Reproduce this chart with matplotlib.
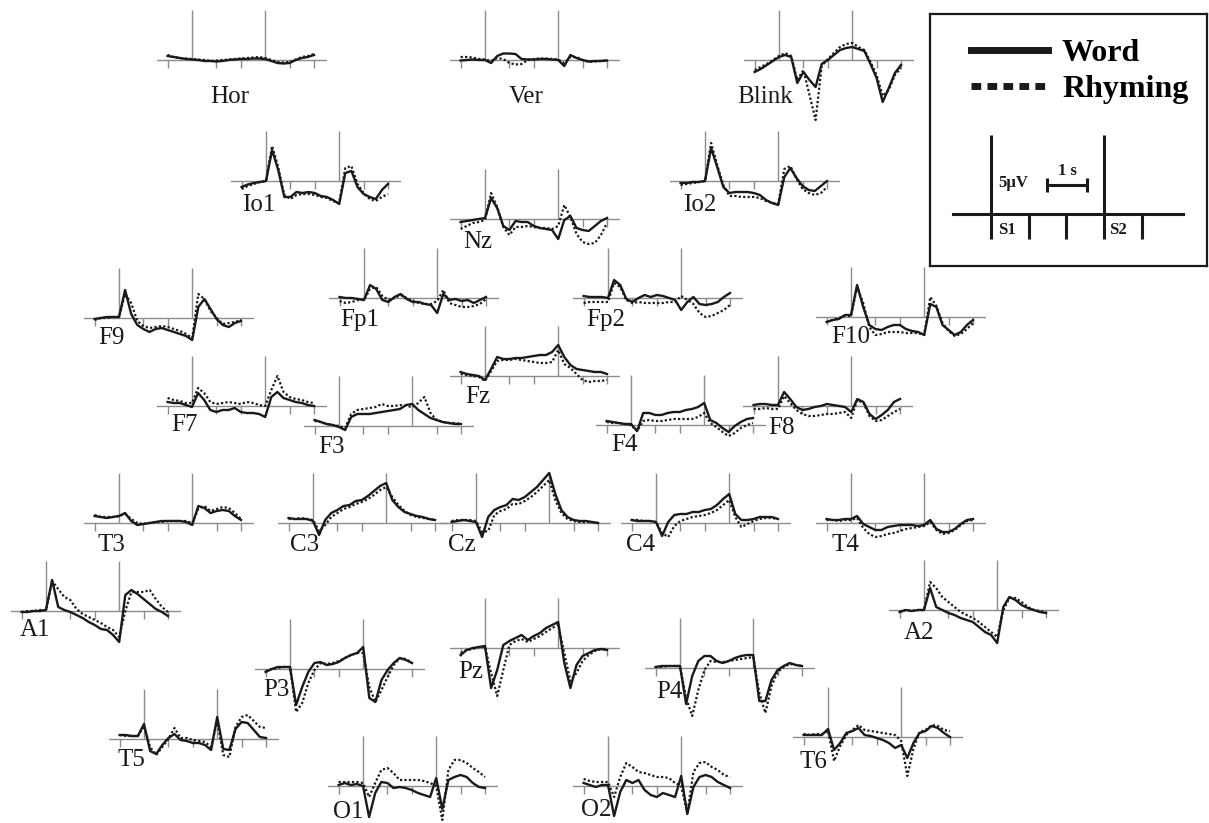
import matplotlib
matplotlib.use("Agg")
import matplotlib.pyplot as plt
from matplotlib.lines import Line2D

# figure size in pixels
W, H = 1209, 823

# panel scale: pixels per second / per microvolt
PX_S = 24.4
PX_UV = 10.0
T_LO, T_HI = -1.45, 5.55
V_LO, V_HI = -7.0, 7.0

# time grid in s (S1 at 0, S2 at 3)
times = [-1.0, -0.75, -0.5, -0.25, 0.0, 0.25, 0.5, 0.75, 1.0, 1.25, 1.5, 1.75,
         2.0, 2.25, 2.5, 2.75, 3.0, 3.25, 3.5, 3.75, 4.0, 4.25, 4.5, 4.75, 5.0]

# amplitudes in microvolts, Word (w_) and Rhyming (r_)
w_Hor = [0.4, 0.3, 0.2, 0.1, 0.05, 0, -0.1, -0.1, -0.15, -0.1, 0, 0.05, 0.1, 0.1, 0.15, 0.15, 0.1, -0.1, -0.3, -0.35, -0.3, 0, 0.2, 0.3, 0.5]
r_Hor = [0.5, 0.3, 0.2, 0.15, 0.1, 0.05, 0, -0.1, -0.05, 0, 0.05, 0.1, 0.15, 0.2, 0.25, 0.3, 0.2, 0, -0.2, -0.25, -0.2, 0.05, 0.3, 0.4, 0.6]
w_Ver = [-0.05, 0, 0.05, 0, 0, -0.3, 0.4, 0.65, 0.65, 0.6, 0.1, 0.05, 0.05, 0.1, 0.1, 0.05, 0, -0.6, 0.5, 0.2, 0, -0.15, -0.1, -0.1, -0.05]
r_Ver = [0.3, 0.3, 0.25, 0.1, 0.05, -0.1, 0.2, 0.1, -0.3, -0.45, -0.4, 0, 0.1, 0.15, 0.15, 0.1, 0.05, -0.3, 0.3, 0.3, 0, -0.2, -0.15, -0.1, -0.05]
w_Blink = [-1.2, -0.9, -0.5, -0.1, 0.3, 0.5, 0.3, -2.3, -1.2, -2.0, -2.7, -0.4, 0, 0.5, 1.0, 1.2, 1.3, 1.1, 0.9, -0.4, -1.8, -4.2, -2.8, -1.3, -0.5]
r_Blink = [-1.0, -0.7, -0.4, 0, 0.4, 0.7, 0.4, -2.0, -1.0, -3.5, -6.0, -0.6, 0.1, 0.7, 1.3, 1.6, 1.7, 1.3, 1.0, -0.2, -1.5, -3.6, -3.0, -1.5, -0.8]
w_Io1 = [-0.6, -0.35, -0.2, -0.1, 0, 3.1, 1.1, -1.6, -1.6, -1.1, -1.2, -1.1, -1.2, -1.5, -1.6, -1.9, -2.3, 0.8, 1.0, -0.6, -1.3, -1.6, -1.8, -0.9, -0.3]
r_Io1 = [-0.8, -0.5, -0.3, -0.1, 0, 3.5, 1.4, -1.4, -1.8, -1.4, -1.3, -1.3, -1.4, -1.6, -1.7, -2.0, -2.2, 1.3, 1.5, -0.3, -1.2, -1.8, -2.0, -1.6, -1.3]
w_Io2 = [-0.2, -0.2, -0.1, -0.1, 0, 3.3, 1.4, -0.6, -1.2, -1.1, -1.1, -1.1, -1.2, -1.4, -1.9, -2.2, -2.4, 0.4, 1.3, 0.3, -0.5, -0.9, -1.0, -0.5, 0.0]
r_Io2 = [-0.4, -0.3, -0.2, -0.1, 0, 3.8, 1.6, -0.4, -1.5, -1.5, -1.6, -1.6, -1.6, -1.7, -2.0, -2.2, -2.3, 1.2, 1.5, 0.2, -0.8, -1.2, -1.4, -1.2, -0.6]
w_Nz = [-0.3, -0.2, -0.1, 0, 0.1, 2.1, 1.1, -0.7, -1.1, -0.2, -0.3, -0.3, -0.7, -0.9, -1.0, -1.1, -2.0, -0.1, 0.3, -0.9, -1.1, -1.2, -0.7, -0.2, 0.1]
r_Nz = [-1.0, -0.7, -0.4, -0.3, -0.1, 2.6, 1.2, -0.8, -1.6, -0.8, -0.8, -0.7, -0.8, -0.9, -0.9, -1.0, -0.7, 1.4, 0.2, -1.5, -2.3, -2.5, -2.4, -1.6, -0.4]
w_F9 = [-0.1, 0, 0.1, 0.1, 0.1, 2.8, 0.4, -0.7, -1.1, -1.4, -1.1, -1.0, -1.2, -1.4, -1.6, -1.8, -2.2, 1.1, 1.9, 0.9, -0.1, -0.7, -0.9, -0.5, -0.3]
r_F9 = [-0.2, 0, 0, 0.1, 0.1, 2.4, 1.5, -0.3, -0.8, -1.0, -0.9, -0.8, -0.9, -1.1, -1.3, -1.6, -2.0, 2.4, 1.9, 0.7, 0, -0.6, -0.5, -0.4, -0.2]
w_Fp1 = [0.1, 0, 0, -0.1, -0.2, 1.3, 0.9, -0.2, -0.4, 0.1, 0.4, -0.1, -0.4, -0.4, -0.6, -0.7, -1.5, 0.4, -0.2, -0.1, -0.3, -0.2, -0.5, -0.2, 0.1]
r_Fp1 = [-0.3, -0.5, -0.4, -0.2, -0.2, 0.9, 1.1, 0.2, -0.2, 0, 0.3, 0, -0.3, -0.5, -0.6, -0.6, -0.3, 0.8, -0.5, -0.7, -0.9, -0.9, -0.8, -0.6, -0.1]
w_Fp2 = [0.2, 0.1, 0.1, 0.1, 0, 1.8, 1.3, -0.1, -0.4, 0, 0.3, 0.1, 0.3, 0.2, 0, -0.2, -1.2, -0.4, 0.1, -0.6, -0.7, -0.6, -0.4, 0.1, 0.5]
r_Fp2 = [-0.5, -0.4, -0.4, -0.4, -0.4, 1.5, 1.1, -0.2, -0.5, -0.4, -0.5, -0.5, -0.5, -0.5, -0.4, -0.4, 0.2, -0.2, -0.6, -1.5, -1.9, -1.8, -1.5, -1.2, -0.7]
w_F10 = [-0.5, -0.3, -0.2, 0.2, 0.2, 3.2, 1.0, -0.8, -1.2, -1.3, -1.0, -0.8, -0.8, -1.2, -1.4, -1.5, -1.8, 1.3, 1.0, -0.8, -1.3, -1.8, -1.5, -0.8, -0.3]
r_F10 = [-0.5, -0.3, -0.1, 0.1, 0.1, 3.0, 1.4, -1.0, -1.8, -1.7, -1.5, -1.5, -1.5, -1.6, -1.6, -1.6, -1.8, 2.0, 1.1, -0.6, -1.4, -1.9, -1.7, -1.2, -0.6]
w_Fz = [0.4, 0.2, 0.1, 0, -0.4, 0.7, 1.9, 1.7, 1.7, 1.8, 1.8, 1.9, 2.0, 2.1, 2.1, 2.4, 3.1, 1.9, 1.1, 0.7, 0.6, 0.5, 0.4, 0.4, 0.2]
r_Fz = [0.2, 0.1, 0, -0.1, -0.5, 0.5, 1.5, 1.6, 1.6, 1.7, 1.6, 1.5, 1.4, 1.3, 1.3, 1.4, 2.6, 1.2, 0.8, 0.2, -0.4, -0.6, -0.5, -0.5, -0.4]
w_F7 = [0.4, 0.3, 0.3, 0.1, -0.1, 1.3, 0.6, -0.4, -0.6, -0.4, -0.4, -0.2, -0.6, -0.7, -0.7, -0.8, -1.1, 0.9, 1.4, 0.8, 0.6, 0.4, 0.3, 0.1, 0]
r_F7 = [0.8, 0.6, 0.5, 0.3, 0.3, 1.8, 1.3, 0.4, 0.2, 0.3, 0.4, 0.3, 0.2, 0.4, 0.3, 0.1, 0, 1.6, 3.0, 1.4, 0.9, 0.7, 0.6, 0.4, 0.3]
w_F3 = [0.6, 0.4, 0.2, 0.1, -0.1, -0.4, 0.9, 1.2, 1.2, 1.2, 1.3, 1.4, 1.5, 1.6, 1.7, 2.1, 2.2, 1.6, 1.2, 0.8, 0.6, 0.4, 0.3, 0.2, 0.2]
r_F3 = [0.5, 0.4, 0.2, 0.1, 0, -0.2, 1.2, 1.6, 1.7, 1.8, 1.9, 2.2, 2.0, 2.0, 2.1, 2.0, 1.9, 2.3, 2.9, 1.3, 0.6, 0.4, 0.3, 0.3, 0.2]
w_F4 = [0.4, 0.3, 0.2, 0.1, 0.1, -0.6, 1.2, 1.2, 1.0, 1.0, 1.2, 1.3, 1.3, 1.5, 1.6, 1.8, 2.2, 0.5, 0.2, -0.3, -0.7, -0.1, 0.3, 0.6, 0.7]
r_F4 = [0.3, 0.2, 0.2, 0.1, 0, -0.6, 0.4, 0.5, 0.4, 0.4, 0.5, 0.6, 0.6, 0.6, 0.6, 0.8, 1.2, 0.2, -0.2, -0.7, -1.1, -0.8, -0.3, 0, 0.2]
w_F8 = [0.1, 0.2, 0.2, 0.1, 0.1, 1.4, 0.7, -0.1, -0.4, -0.3, -0.1, 0, 0.2, 0.1, 0, -0.1, -0.6, 0.7, 0.4, -0.8, -1.3, -0.9, -0.4, 0.4, 0.7]
r_F8 = [-0.3, -0.3, -0.2, -0.3, -0.3, 1.0, 0.3, -0.4, -0.8, -1.0, -1.0, -0.9, -0.8, -0.8, -0.7, -0.6, -1.2, 0.6, 0.3, -1.0, -1.5, -1.4, -1.0, -0.6, -0.3]
w_T3 = [0.7, 0.6, 0.5, 0.6, 0.7, 1.0, 0.2, -0.2, -0.1, 0, 0.1, 0.2, 0.2, 0.2, 0.2, 0.1, -0.2, 1.7, 1.5, 1.0, 1.2, 1.3, 1.2, 0.7, 0.3]
r_T3 = [0.8, 0.6, 0.6, 0.6, 0.7, 0.9, 0.4, 0, -0.1, 0, 0.1, 0.1, 0.2, 0.2, 0.2, 0.2, 0, 1.4, 1.7, 1.2, 1.4, 1.6, 1.5, 1.0, 0.4]
w_C3 = [0.5, 0.4, 0.4, 0.4, 0.2, -1.2, 0.3, 1.0, 1.3, 1.7, 1.8, 2.2, 2.3, 2.7, 3.2, 3.7, 4.0, 2.3, 1.6, 1.1, 0.9, 0.7, 0.6, 0.4, 0.3]
r_C3 = [0.4, 0.4, 0.5, 0.4, 0.3, -0.8, -0.2, 0.6, 1.0, 1.4, 1.6, 1.9, 2.1, 2.4, 2.8, 3.3, 3.6, 2.6, 1.8, 1.2, 0.8, 0.6, 0.5, 0.4, 0.3]
w_Cz = [0.1, 0.2, 0.3, 0.2, 0.1, -1.4, 0.6, 1.3, 1.6, 1.8, 2.4, 2.3, 2.6, 3.1, 3.6, 4.3, 5.0, 2.9, 1.3, 0.6, 0.3, 0.2, 0.2, 0.1, 0]
r_Cz = [0.2, 0.3, 0.3, 0.3, 0.2, -0.9, -0.8, 0.8, 1.2, 1.4, 1.9, 1.9, 2.2, 2.6, 3.1, 3.7, 4.3, 2.3, 1.0, 0.4, 0.2, 0.1, 0.1, 0.1, 0]
w_C4 = [0.3, 0.2, 0.2, 0.2, 0.1, -1.3, 0.1, 0.8, 0.9, 0.9, 1.1, 1.1, 1.3, 1.4, 1.8, 2.4, 2.9, 0.9, 0.3, 0.3, 0.4, 0.6, 0.6, 0.6, 0.4]
r_C4 = [0.3, 0.3, 0.2, 0.2, 0.1, -1.0, -1.4, -0.3, 0.2, 0.4, 0.6, 0.7, 0.8, 1.0, 1.3, 1.8, 2.3, 0.6, -0.4, -0.1, 0.2, 0.4, 0.5, 0.5, 0.4]
w_T4 = [0.4, 0.3, 0.3, 0.4, 0.4, 0.7, -0.1, -0.4, -0.7, -0.7, -0.4, -0.3, -0.2, -0.2, -0.2, -0.3, -0.2, 0.3, -0.6, -0.9, -0.9, -0.6, -0.1, 0.3, 0.4]
r_T4 = [0.3, 0.3, 0.2, 0.3, 0.3, 0.5, -0.5, -1.1, -1.4, -1.3, -1.1, -1.0, -0.8, -0.6, -0.5, -0.4, -0.3, 0.1, -0.7, -1.1, -1.0, -0.7, -0.2, 0.2, 0.3]
w_A1 = [-0.1, -0.1, 0, 0, 0.1, 3.1, 0.4, 0.1, -0.1, -0.4, -0.7, -1.1, -1.4, -1.8, -1.9, -2.4, -3.1, 1.6, 2.1, 1.7, 1.2, 0.7, 0.2, -0.1, -0.5]
r_A1 = [-0.1, 0, 0, 0.1, 0.1, 3.0, 2.2, 1.4, 1.1, 0.2, -0.3, -0.6, -0.9, -1.2, -1.6, -1.9, -2.6, 0, 1.9, 1.9, 1.9, 2.1, 1.2, 0.4, -0.1]
w_A2 = [-0.2, 0, -0.1, 0, 0, 2.2, 0.3, 0, -0.3, -0.5, -0.8, -1.0, -1.2, -1.7, -2.2, -2.5, -3.3, 0.3, 1.3, 1.0, 0.5, 0.2, 0, -0.2, -0.3]
r_A2 = [-0.2, 0, -0.1, 0, 0, 2.8, 2.2, 1.3, 0.8, 0.3, -0.2, -0.5, -0.8, -1.2, -1.7, -2.2, -2.7, 0, 1.2, 1.2, 0.8, 0.3, 0, -0.1, -0.2]
w_P3 = [-0.3, 0, 0.2, 0.2, 0.2, -3.6, -1.8, -0.3, 0.6, 0.7, 0.4, 0.5, 0.7, 1.1, 1.4, 1.6, 2.2, -2.9, -3.3, -1.1, -0.1, 0.6, 1.1, 0.9, 0.6]
r_P3 = [-0.2, 0, 0.1, 0.2, 0.2, -4.3, -3.4, -1.4, -0.1, 0.6, 0.5, 0.6, 0.8, 1.1, 1.4, 1.6, 1.6, -1.8, -3.3, -2.1, -0.8, 0.4, 1.1, 1.0, 0.6]
w_Pz = [-0.7, -0.2, 0, 0.1, 0.2, -4.0, -2.2, 0.3, 0.7, 1.0, 1.3, 0.8, 1.2, 1.5, 2.0, 2.3, 2.6, -1.5, -4.0, -1.7, -0.8, -0.5, -0.2, -0.1, -0.2]
r_Pz = [-0.5, -0.2, -0.1, 0.1, 0.1, -2.5, -4.8, -2.2, 0.3, 0.7, 0.9, 0.6, 0.9, 1.2, 1.6, 2.0, 2.3, -0.5, -3.3, -2.5, -1.3, -0.7, -0.3, -0.1, -0.1]
w_P4 = [0.1, 0.2, 0.2, 0.2, 0.2, -3.6, -0.8, 0.7, 1.2, 1.2, 0.7, 0.5, 0.7, 1.0, 1.2, 1.3, 1.3, -3.3, -3.3, -1.2, -0.2, 0.2, 0.5, 0.3, 0.2]
r_P4 = [0.1, 0.1, 0.2, 0.2, 0.2, -3.0, -4.8, -2.2, -0.2, 0.7, 0.6, 0.6, 0.7, 0.8, 0.9, 1.0, 1.1, -2.5, -4.5, -1.8, -0.4, 0.1, 0.4, 0.3, 0.2]
w_T5 = [0.4, 0.4, 0.3, 0.3, 1.5, -1.2, -1.5, -0.6, 0.1, 0.5, -0.1, -0.2, -0.4, -0.4, -0.6, -1.1, 2.2, -1.0, -1.1, 1.0, 1.7, 1.6, 0.9, 0.2, 0.1]
r_T5 = [0.4, 0.3, 0.3, 0.3, 1.3, -0.8, -1.6, -0.8, 0, 1.1, 0.1, 0.1, -0.1, -0.2, -0.3, -0.8, 1.8, -1.6, -1.8, 1.2, 2.2, 2.4, 1.8, 1.2, 1.1]
w_T6 = [0.2, 0.2, 0.2, 0.2, 0.8, -1.3, -0.6, 0.4, 0.6, 0.9, 0.2, 0.1, -0.1, -0.3, -0.6, -1.1, -0.8, -2.1, -0.6, 0.4, 0.6, 1.1, 0.9, 0.4, 0]
r_T6 = [0.3, 0.2, 0.3, 0.3, 0.6, -2.4, -0.9, 0.2, 0.7, 1.2, 0.7, 0.6, 0.5, 0.4, 0.3, 0.2, -0.4, -3.9, -1.2, 0.5, 0.7, 1.2, 1.1, 0.7, 0.6]
w_O1 = [0.1, 0.3, 0.1, 0.2, 0, -3.1, -0.7, 0.4, 0.3, -0.2, -0.1, -0.2, -0.4, -0.7, -0.9, -1.1, 0.8, -2.3, 0.6, 0.9, 1.1, 0.9, 0.3, -0.1, -0.2]
r_O1 = [0.4, 0.4, 0.4, 0.4, 0.3, -1.1, 0.3, 1.6, 1.8, 1.3, 0.6, 0.6, 0.6, 0.6, 0.5, 0.3, 0, -3.4, 1.6, 2.6, 2.6, 2.3, 1.8, 1.4, 0.9]
w_O2 = [0.3, 0.1, -0.1, 0.1, 0.1, -3.0, -0.6, 0.6, 0.3, 0.6, -0.4, -0.9, -1.1, -0.7, -0.9, -1.1, 1.0, -2.8, -0.1, 0.9, 1.1, 0.9, 0.4, 0.1, -0.2]
r_O2 = [0.7, 0.5, 0.4, 0.4, 0.4, -1.1, 0.9, 2.3, 1.9, 1.4, 1.3, 1.1, 0.9, 0.9, 0.8, 0.3, 0, -2.7, 1.4, 2.3, 2.4, 1.9, 1.6, 1.1, 0.9]

# layout in pixels: S1 x, baseline y, label x, label y, label alignment
layout = {
    'Hor':   (192, 60, 230, 97, 'center'),
    'Ver':   (485, 60, 526, 97, 'center'),
    'Blink': (779, 60, 765, 97, 'center'),
    'Io1':   (266, 181, 242, 205, 'left'),
    'Nz':    (485, 219, 463, 242, 'left'),
    'Io2':   (705, 181, 683, 205, 'left'),
    'F9':    (119, 318, 98, 338, 'left'),
    'Fp1':   (364, 298, 340, 320, 'left'),
    'Fp2':   (608, 298, 586, 320, 'left'),
    'F10':   (851, 317, 831, 337, 'left'),
    'Fz':    (485, 376, 465, 397, 'left'),
    'F7':    (192, 406, 171, 425, 'left'),
    'F3':    (339, 426, 318, 447, 'left'),
    'F4':    (631, 425, 611, 445, 'left'),
    'F8':    (778, 406, 768, 428, 'left'),
    'T3':    (119, 523, 98, 545, 'left'),
    'C3':    (313, 523, 290, 545, 'left'),
    'Cz':    (476, 523, 448, 545, 'left'),
    'C4':    (656, 523, 626, 545, 'left'),
    'T4':    (851, 523, 831, 545, 'left'),
    'A1':    (46, 611, 20, 630, 'left'),
    'A2':    (924, 610, 904, 633, 'left'),
    'P3':    (290, 669, 263, 690, 'left'),
    'Pz':    (485, 648, 458, 672, 'left'),
    'P4':    (680, 668, 656, 692, 'left'),
    'T5':    (144, 739, 117, 760, 'left'),
    'T6':    (828, 737, 800, 762, 'left'),
    'O1':    (363, 786, 333, 812, 'left'),
    'O2':    (608, 786, 581, 810, 'left'),
}

series = {
    'Hor': (w_Hor, r_Hor), 'Ver': (w_Ver, r_Ver), 'Blink': (w_Blink, r_Blink),
    'Io1': (w_Io1, r_Io1), 'Nz': (w_Nz, r_Nz), 'Io2': (w_Io2, r_Io2),
    'F9': (w_F9, r_F9), 'Fp1': (w_Fp1, r_Fp1), 'Fp2': (w_Fp2, r_Fp2), 'F10': (w_F10, r_F10),
    'Fz': (w_Fz, r_Fz), 'F7': (w_F7, r_F7), 'F3': (w_F3, r_F3), 'F4': (w_F4, r_F4), 'F8': (w_F8, r_F8),
    'T3': (w_T3, r_T3), 'C3': (w_C3, r_C3), 'Cz': (w_Cz, r_Cz), 'C4': (w_C4, r_C4), 'T4': (w_T4, r_T4),
    'A1': (w_A1, r_A1), 'A2': (w_A2, r_A2), 'P3': (w_P3, r_P3), 'Pz': (w_Pz, r_Pz), 'P4': (w_P4, r_P4),
    'T5': (w_T5, r_T5), 'T6': (w_T6, r_T6), 'O1': (w_O1, r_O1), 'O2': (w_O2, r_O2),
}

GRID = '#8c8c8c'
INK = '#1a1a1a'
SERIF = ['Liberation Serif', 'DejaVu Serif']
DOTS = (0, (1, 1))

fig = plt.figure(figsize=(W / 100, H / 100), dpi=100)
fig.patch.set_facecolor('white')


def draw_panel(name, word, rhym, s1x, basey, lx, ly, ha):
    # one small axes per electrode, in seconds and microvolts
    left = (s1x + T_LO * PX_S) / W
    bottom = 1 - (basey - V_LO * PX_UV) / H
    ax = fig.add_axes([left, bottom, (T_HI - T_LO) * PX_S / W, (V_HI - V_LO) * PX_UV / H])
    ax.set_xlim(T_LO, T_HI)
    ax.set_ylim(V_LO, V_HI)
    ax.axis('off')
    ax.axhline(0, color=GRID, lw=1.0)
    ax.vlines([0, 3], 0, 5, color=GRID, lw=1.0)
    ax.vlines([-1, 1, 2, 4, 5], -0.8, 0, color=GRID, lw=1.0)
    ax.plot(times, rhym, color=INK, lw=1.6, ls=DOTS, clip_on=False)
    ax.plot(times, word, color=INK, lw=1.7, clip_on=False)
    fig.text(lx / W, 1 - ly / H, name, ha=ha, va='center',
             family=SERIF, fontsize=18, color=INK)


for name, (s1x, basey, lx, ly, ha) in layout.items():
    word, rhym = series[name]
    draw_panel(name, word, rhym, s1x, basey, lx, ly, ha)

# legend box with the time/amplitude key (scaled 1.55x)
LEG_S = 37.7
LEG_UV = 15.8
box = (930, 14, 1207, 266)   # left, top, right, bottom in px
leg_s1, leg_base = 991, 214
lax = fig.add_axes([box[0] / W, 1 - box[3] / H, (box[2] - box[0]) / W, (box[3] - box[1]) / H])
lax.set_xlim((box[0] - leg_s1) / LEG_S, (box[2] - leg_s1) / LEG_S)
lax.set_ylim((leg_base - box[3]) / LEG_UV, (leg_base - box[1]) / LEG_UV)
lax.set_xticks([])
lax.set_yticks([])
for sp in lax.spines.values():
    sp.set_linewidth(1.6)
    sp.set_color(INK)

lax.plot([-1.0, 5.1], [0, 0], color=INK, lw=2.2)
lax.vlines([0, 3], -1.6, 5, color=INK, lw=2.2)
lax.vlines([1, 2, 4], -1.6, 0, color=INK, lw=2.2)
lax.plot([1.49, 2.55], [1.85, 1.85], color=INK, lw=2.2)
lax.vlines([1.49, 2.55], 1.4, 2.3, color=INK, lw=2.2)
bold = dict(family=SERIF, fontsize=12, fontweight='bold', color=INK)
lax.text(2.02, 2.2, '1 s', ha='center', va='bottom', **bold)
lax.text(0.2, 1.95, '5μV', ha='left', va='center', **bold)
lax.text(0.2, -1.0, 'S1', ha='left', va='center', **bold)
lax.text(3.12, -1.0, 'S2', ha='left', va='center', **bold)

handles = [Line2D([], [], color=INK, lw=5),
           Line2D([], [], color=INK, lw=5, ls=(0, (1.4, 0.9)))]
lax.legend(handles, ['Word', 'Rhyming'], loc='upper left',
           bbox_to_anchor=(0.09, 0.965), frameon=False, borderpad=0,
           handlelength=2.4, handletextpad=0.45, labelspacing=0.2,
           prop=dict(family=SERIF, size=23, weight='bold'))

fig.savefig('out.png', dpi=100, facecolor='white')
